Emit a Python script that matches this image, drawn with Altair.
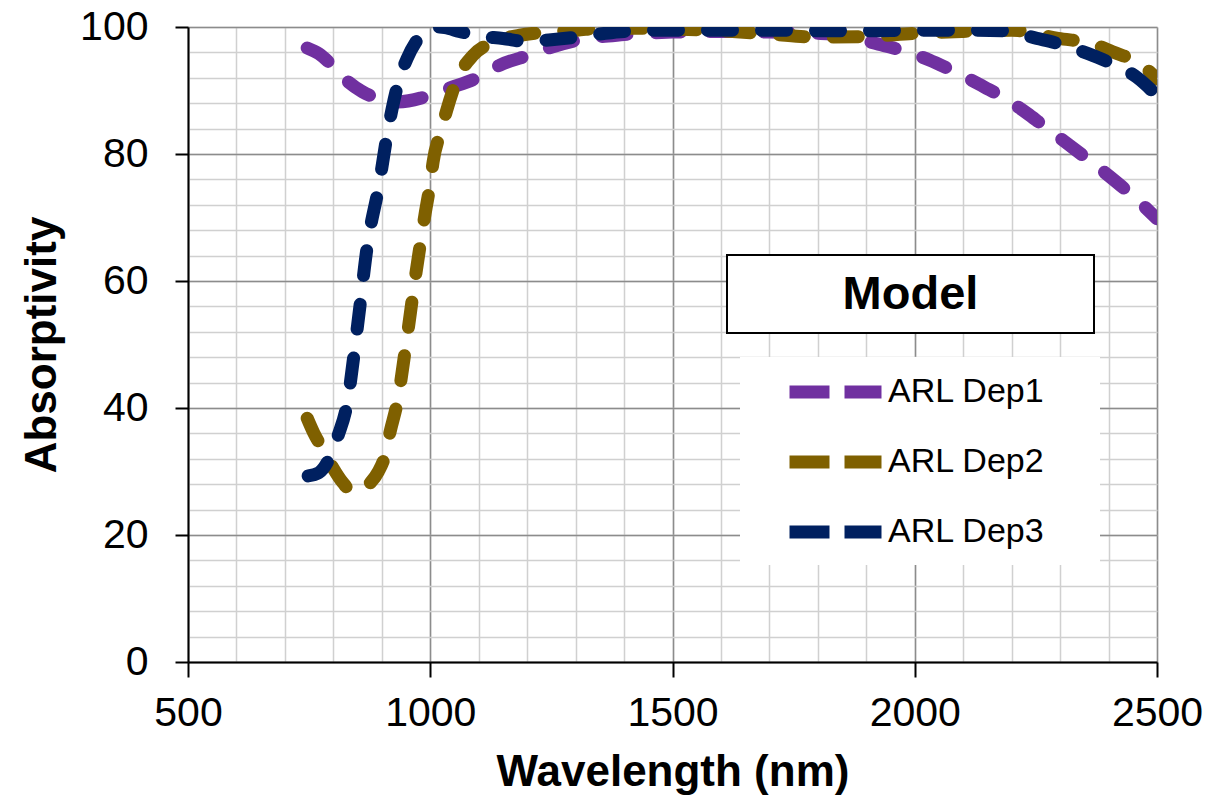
import altair as alt
import pandas as pd

# ---- data ----
wl_dep1 = [746, 770, 797, 830, 860, 890, 930, 980, 1000, 1041, 1100, 1144, 1206, 1253, 1309,
           1400, 1500, 1600, 1700, 1800, 1850, 1925, 1970, 2030, 2070, 2135, 2176, 2232, 2260,
           2300, 2350, 2400, 2450, 2500]
ab_dep1 = [96.7, 95.8, 94.0, 91.4, 89.8, 88.8, 88.2, 88.8, 89.3, 90.4, 92.1, 94.0, 95.6, 96.9, 98.0,
           98.8, 99.2, 99.3, 99.2, 99.0, 98.7, 97.3, 96.4, 94.8, 93.4, 90.9, 89.2, 86.4, 84.8,
           82.5, 79.6, 76.6, 73.4, 69.8]

wl_dep2 = [746, 760, 777, 799, 820, 840, 855, 876, 893, 907, 917, 933, 950, 970, 989, 1000, 1006,
           1023, 1034, 1055, 1088, 1129, 1185, 1241, 1303, 1350, 1400, 1500, 1600, 1700, 1800,
           1900, 2000, 2100, 2200, 2296, 2366, 2408, 2469, 2500]
ab_dep2 = [38.4, 36.0, 33.7, 30.6, 28.2, 26.8, 27.0, 28.2, 30.0, 32.6, 36.2, 41.3, 50.0, 61.0, 70.4,
           75.4, 78.8, 83.8, 86.9, 91.7, 95.5, 97.6, 98.7, 99.2, 99.5, 99.8, 99.8, 99.7, 99.4, 98.9,
           98.4, 98.5, 99.0, 99.3, 99.5, 98.2, 97.4, 96.1, 94.0, 91.8]

wl_dep3 = [748, 770, 790, 810, 828, 850, 871, 894, 911, 921, 935, 952, 970, 990, 1010, 1030, 1060,
           1100, 1150, 1200, 1250, 1300, 1350, 1400, 1500, 1600, 1700, 1800, 1900, 2000, 2100,
           2183, 2252, 2296, 2358, 2399, 2458, 2500]
ab_dep3 = [29.3, 29.8, 31.8, 35.7, 40.5, 53.0, 66.0, 75.0, 83.0, 87.0, 91.5, 95.0, 97.6, 99.3, 100.0,
           99.9, 99.3, 98.6, 98.2, 97.7, 98.0, 98.4, 98.9, 99.3, 99.5, 99.5, 99.5, 99.4, 99.4, 99.5,
           99.5, 99.4, 98.2, 97.4, 95.8, 94.5, 92.1, 89.2]

series_names = ["ARL Dep1", "ARL Dep2", "ARL Dep3"]
series_colors = ["#7030A0", "#7F6000", "#002060"]

x_major = [500, 1000, 1500, 2000, 2500]
x_minor = list(range(500, 2501, 100))
y_major = [0, 20, 40, 60, 80, 100]
y_minor = list(range(0, 101, 4))

rows = []
for name, wl, ab in zip(series_names, [wl_dep1, wl_dep2, wl_dep3], [ab_dep1, ab_dep2, ab_dep3]):
    for w, a in zip(wl, ab):
        rows.append({"Series": name, "Wavelength": w, "Absorptivity": a})
df = pd.DataFrame(rows)

FONT = "Liberation Sans"
W, H = 969, 635

xscale = alt.Scale(domain=[500, 2500], nice=False, zero=False)
yscale = alt.Scale(domain=[0, 100], nice=False)

# minor grid layer (no visible axis parts other than grid)
minor = alt.Chart(df).mark_line(opacity=0).encode(
    x=alt.X("Wavelength:Q", scale=xscale,
            axis=alt.Axis(values=x_minor, grid=True, gridColor="#D0D0D0", gridWidth=1.5,
                          labels=False, ticks=False, domain=False, title=None, orient="top")),
    y=alt.Y("Absorptivity:Q", scale=yscale,
            axis=alt.Axis(values=y_minor, grid=True, gridColor="#D0D0D0", gridWidth=1.5,
                          labels=False, ticks=False, domain=False, title=None, orient="right")),
)

lines = alt.Chart(df).mark_line(strokeWidth=13, strokeCap="round", strokeJoin="round",
                                strokeDash=[25, 29], interpolate="monotone", clip=True).encode(
    x=alt.X("Wavelength:Q", scale=xscale,
            axis=alt.Axis(values=x_major, format="d", grid=True, gridColor="#8C8C8C", gridWidth=1.5,
                          orient="bottom", domainColor="#000000", domainWidth=2,
                          tickColor="#000000", tickWidth=2, tickSize=15,
                          labelFont=FONT, labelFontSize=41, labelColor="#000000",
                          labelPadding=16, labelFlush=False,
                          title="Wavelength (nm)", titleFont=FONT, titleFontSize=44,
                          titleFontWeight="bold", titleColor="#000000",
                          titleX=W / 2, titleY=123, titleBaseline="alphabetic",
                          titleAlign="center")),
    y=alt.Y("Absorptivity:Q", scale=yscale,
            axis=alt.Axis(values=y_major, format="d", grid=True, gridColor="#8C8C8C", gridWidth=1.5,
                          orient="left", domainColor="#000000", domainWidth=2,
                          tickColor="#000000", tickWidth=2, tickSize=13,
                          labelFont=FONT, labelFontSize=41, labelColor="#000000",
                          labelPadding=27, labelFlush=False,
                          title="Absorptivity", titleFont=FONT, titleFontSize=44,
                          titleFontWeight="bold", titleColor="#000000",
                          titleX=-133, titleY=H / 2, titleAngle=270,
                          titleBaseline="alphabetic", titleAlign="center")),
    color=alt.Color("Series:N",
                    scale=alt.Scale(domain=series_names, range=series_colors),
                    legend=alt.Legend(orient="none", legendX=595, legendY=348, title=None,
                                      symbolType="stroke", symbolSize=8464,
                                      symbolStrokeWidth=13, symbolDash=[40, 15],
                                      labelFont=FONT, labelFontSize=34, labelColor="#000000",
                                      labelOffset=0, rowPadding=36, clipHeight=34, padding=0)),
)

one = pd.DataFrame({"k": [0]})
legend_bg = alt.Chart(one).mark_rect(fill="white").encode(
    x=alt.value(552), x2=alt.value(912), y=alt.value(330), y2=alt.value(538))
model_box = alt.Chart(one).mark_rect(fill="white", stroke="black", strokeWidth=2).encode(
    x=alt.value(539), x2=alt.value(906), y=alt.value(228), y2=alt.value(306))
model_text = alt.Chart(one).mark_text(text="Model", font=FONT, fontSize=47, fontWeight="bold",
                                      color="black", align="center", baseline="middle").encode(
    x=alt.value(722.5), y=alt.value(268))

chart = alt.layer(minor, lines, legend_bg, model_box, model_text).resolve_axis(
    x="independent", y="independent"
).properties(
    width=W, height=H,
    padding={"left": 188, "top": 27, "right": 73, "bottom": 133},
    autosize=alt.AutoSizeParams(type="none"),
).configure_view(stroke="#333333", strokeWidth=2).configure(background="white")

chart.save("out.html", embed_options={"renderer": "svg", "actions": False})
